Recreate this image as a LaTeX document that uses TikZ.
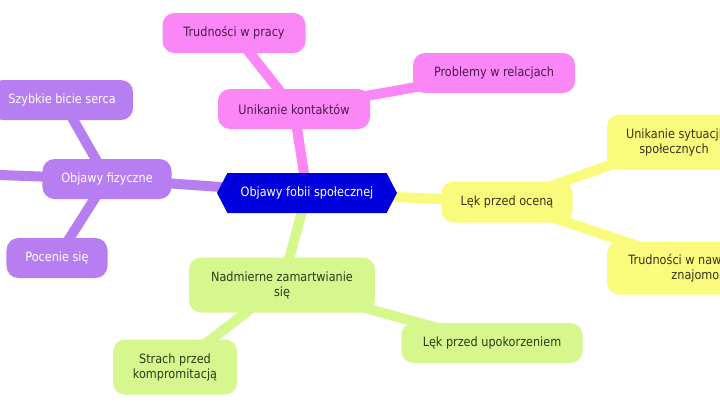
\documentclass[tikz,border=0pt]{standalone}
\usepackage{fontspec}
\setmainfont{DejaVu Sans}[FakeStretch=0.88]
\usetikzlibrary{shapes.symbols,backgrounds}

\definecolor{hubblue}{HTML}{0000DC}
\definecolor{pinkfill}{HTML}{FB86F6}
\definecolor{pinktext}{HTML}{4A1C4A}
\definecolor{purplefill}{HTML}{B77EF2}
\definecolor{yellowfill}{HTML}{FAFA7C}
\definecolor{yellowtext}{HTML}{35351A}
\definecolor{greenfill}{HTML}{D5F78E}
\definecolor{greentext}{HTML}{2C3A1A}

\tikzset{
  txt/.style={font=\fontsize{12.8bp}{15bp}\selectfont, align=center, inner sep=0pt},
  bubble/.style={txt, rounded corners=12bp, minimum height=40bp},
  hub/.style={txt, shape=signal, signal to=west and east, signal pointer angle=125,
    fill=hubblue, text=white, minimum width=180bp, minimum height=40bp},
  pinknode/.style={bubble, fill=pinkfill, text=pinktext},
  purplenode/.style={bubble, fill=purplefill, text=white},
  yellownode/.style={bubble, fill=yellowfill, text=yellowtext},
  greennode/.style={bubble, fill=greenfill, text=greentext},
  pinklink/.style={draw=pinkfill, line width=10bp},
  purplelink/.style={draw=purplefill, line width=10bp},
  yellowlink/.style={draw=yellowfill, line width=10bp},
  greenlink/.style={draw=greenfill, line width=10bp},
}

\begin{document}
\begin{tikzpicture}[x=1bp, y=-1bp]
\clip (0,0) rectangle (720,406);

% central topic
\node[hub] (hub) at (307,193) {Objawy fobii społecznej};

% avoidance of contacts
\node[pinknode, minimum width=152bp] (unik) at (294,109) {Unikanie kontaktów};
\node[pinknode, minimum width=143bp] (trud) at (234,33) {Trudności w pracy};
\node[pinknode, minimum width=162bp] (prob) at (494,73) {Problemy w relacjach};

% physical symptoms
\node[purplenode, minimum width=129bp] (fiz) at (107,179) {Objawy fizyczne};
\node[purplenode, minimum width=142bp] (szyb) at (62,100) {Szybkie bicie serca};
\node[purplenode, minimum width=101bp] (poc) at (57,258) {Pocenie się};
\coordinate (fizout) at (-80,172);

% fear of evaluation
\node[yellownode, minimum width=131bp, minimum height=41bp] (ocena) at (507,202) {Lęk przed oceną};
\node[yellownode, minimum width=134bp, minimum height=55bp] (unsyt) at (674,142) {Unikanie sytuacji\\społecznych};
\node[yellownode, minimum width=192bp, minimum height=53bp] (trudnaw) at (703,268) {Trudności w nawiązywaniu\\znajomości};

% excessive worrying
\node[greennode, minimum width=186bp, minimum height=55bp] (nadm) at (282,285) {Nadmierne zamartwianie\\się};
\node[greennode, minimum width=124bp, minimum height=55bp] (strach) at (175,367) {Strach przed\\kompromitacją};
\node[greennode, minimum width=181bp] (upok) at (492,343) {Lęk przed upokorzeniem};

\begin{scope}[on background layer]
  \fill[white] (0,0) rectangle (720,406);
  \path[pinklink] (hub.center) -- (unik.center);
  \path[pinklink] (unik.center) -- (trud.center);
  \path[pinklink] (unik.center) -- (prob.center);
  \path[purplelink] (hub.center) -- (fiz.center);
  \path[purplelink] (fiz.center) -- (szyb.center);
  \path[purplelink] (fiz.center) -- (poc.center);
  \path[purplelink] (fiz.center) -- (fizout);
  \path[yellowlink] (hub.center) -- (ocena.center);
  \path[yellowlink] (ocena.center) -- (unsyt.center);
  \path[yellowlink] (ocena.center) -- (trudnaw.center);
  \path[greenlink] (hub.center) -- (nadm.center);
  \path[greenlink] (nadm.center) -- (strach.center);
  \path[greenlink] (nadm.center) -- (upok.center);
\end{scope}
\end{tikzpicture}
\end{document}
